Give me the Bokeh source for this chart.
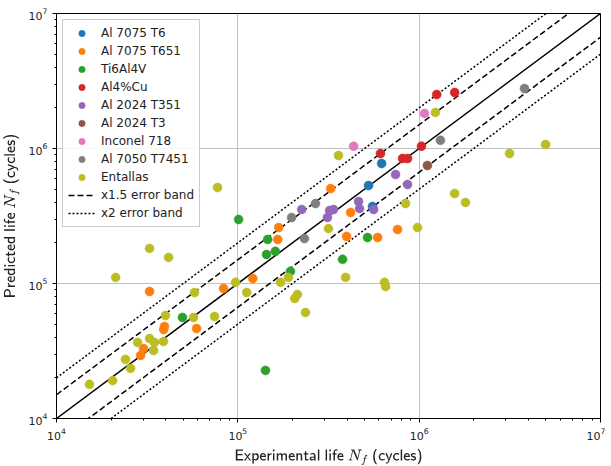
import numpy as np
from bokeh.plotting import figure
from bokeh.models import Legend, LegendItem, Range1d
from bokeh.embed import file_html
from bokeh.resources import INLINE

# ---- data (experimental life, predicted life) ----
al7075_t6_x = [6.21e5, 5.26e5, 5.53e5]
al7075_t6_y = [7.74e5, 5.32e5, 3.72e5]

al7075_t651_x = [3.26e4, 3.94e4, 3.90e4, 3.02e4, 2.91e4, 5.92e4, 8.34e4, 1.21e5, 1.66e5, 1.68e5,
                 3.25e5, 4.19e5, 3.98e5, 5.90e5, 7.60e5]
al7075_t651_y = [8.73e4, 4.80e4, 4.56e4, 3.30e4, 2.93e4, 4.64e4, 9.18e4, 1.09e5, 2.12e5, 2.60e5,
                 5.05e5, 3.36e5, 2.23e5, 2.19e5, 2.51e5]

ti6al4v_x = [1.01e5, 1.46e5, 1.44e5, 1.61e5, 1.95e5, 4.95e4, 1.42e5, 3.78e5, 5.19e5]
ti6al4v_y = [2.98e5, 2.12e5, 1.64e5, 1.73e5, 1.23e5, 5.60e4, 2.27e4, 1.51e5, 2.19e5]

al4cu_x = [1.25e6, 1.57e6, 6.12e5, 8.10e5, 8.63e5, 1.03e6]
al4cu_y = [2.51e6, 2.60e6, 9.18e5, 8.43e5, 8.43e5, 1.04e6]

al2024_t351_x = [2.25e5, 3.21e5, 3.37e5, 3.12e5, 4.63e5, 4.69e5, 5.61e5, 7.41e5, 8.63e5]
al2024_t351_y = [3.53e5, 3.47e5, 3.53e5, 3.08e5, 4.05e5, 3.59e5, 3.53e5, 6.42e5, 5.41e5]

al2024_t3_x = [1.11e6]
al2024_t3_y = [7.48e5]

inconel718_x = [4.35e5, 1.07e6]
inconel718_y = [1.04e6, 1.82e6]

al7050_t7451_x = [3.81e6, 1.31e6, 2.68e5, 1.98e5, 2.33e5]
al7050_t7451_y = [2.78e6, 1.15e6, 3.91e5, 3.08e5, 2.15e5]

entallas_x = [7.73e4, 3.59e5, 1.23e6, 3.15e6, 4.98e6, 1.57e6, 1.80e6, 8.41e5, 3.16e5, 9.80e5,
              3.93e5, 6.44e5, 6.53e5, 2.13e5, 2.06e5, 2.36e5, 3.26e4, 4.15e4, 2.12e4, 5.77e4,
              9.71e4, 1.12e5, 1.72e5, 1.90e5, 3.99e4, 5.70e4, 7.44e4, 1.52e4, 2.04e4, 2.40e4,
              2.56e4, 2.80e4, 3.26e4, 3.47e4, 3.43e4, 3.89e4]
entallas_y = [5.14e5, 8.87e5, 1.85e6, 9.18e5, 1.07e6, 4.64e5, 3.98e5, 3.91e5, 2.55e5, 2.60e5,
              1.11e5, 1.02e5, 9.50e4, 8.29e4, 7.74e4, 6.10e4, 1.82e5, 1.56e5, 1.11e5, 8.58e4,
              1.02e5, 8.58e4, 1.02e5, 1.11e5, 5.79e4, 5.60e4, 5.70e4, 1.79e4, 1.91e4, 2.74e4,
              2.35e4, 3.66e4, 3.91e4, 3.66e4, 3.19e4, 3.72e4]

series = [
    ("Al 7075 T6", al7075_t6_x, al7075_t6_y, "#1f77b4"),
    ("Al 7075 T651", al7075_t651_x, al7075_t651_y, "#ff7f0e"),
    ("Ti6Al4V", ti6al4v_x, ti6al4v_y, "#2ca02c"),
    ("Al4%Cu", al4cu_x, al4cu_y, "#d62728"),
    ("Al 2024 T351", al2024_t351_x, al2024_t351_y, "#9467bd"),
    ("Al 2024 T3", al2024_t3_x, al2024_t3_y, "#8c564b"),
    ("Inconel 718", inconel718_x, inconel718_y, "#e377c2"),
    ("Al 7050 T7451", al7050_t7451_x, al7050_t7451_y, "#7f7f7f"),
    ("Entallas", entallas_x, entallas_y, "#bcbd22"),
]

axis_min, axis_max = 1e4, 1e7
band_x = np.array([axis_min, axis_max])
band15 = 1.5
band2 = 2.0

FONT = "DejaVu Sans"

p = figure(width=602, height=458, x_axis_type="log", y_axis_type="log",
           x_range=Range1d(axis_min, axis_max), y_range=Range1d(axis_min, axis_max),
           output_backend="svg", toolbar_location=None,
           min_border_left=53, min_border_right=5, min_border_top=13, min_border_bottom=40)
p.frame_width = 544
p.frame_height = 405
p.background_fill_color = "white"
p.border_fill_color = "white"
p.outline_line_color = "black"
p.outline_line_width = 1

for ax in (p.xaxis, p.yaxis):
    ax.major_label_text_font = FONT
    ax.major_label_text_font_size = "11px"
    ax.major_label_text_color = "#222222"
    ax.axis_label_text_font = FONT
    ax.axis_label_text_font_size = "11.5px"
    ax.axis_label_text_font_style = "normal"
    ax.axis_label_text_color = "#222222"
    ax.axis_label_standoff = 6
    ax.major_tick_out = 4
    ax.major_tick_in = 0
    ax.minor_tick_out = 2
    ax.minor_tick_in = 0
    ax.axis_line_color = "black"

p.xaxis.axis_label = r"$$\mathsf{Experimental\ life}\ N_f\ \mathsf{(cycles)}$$"
p.yaxis.axis_label = r"$$\mathsf{Predicted\ life}\ N_f\ \mathsf{(cycles)}$$"

p.xgrid.grid_line_color = "#b0b0b0"
p.ygrid.grid_line_color = "#b0b0b0"
p.xgrid.grid_line_alpha = 0.8
p.ygrid.grid_line_alpha = 0.8

# reference lines
p.line(band_x, band_x, line_color="black", line_width=1.5)
dash_r = []
for f in (band15, 1.0 / band15):
    dash_r.append(p.line(band_x, band_x * f, line_color="black", line_width=1.5, line_dash="6 3"))
dot_r = []
for f in (band2, 1.0 / band2):
    dot_r.append(p.line(band_x, band_x * f, line_color="black", line_width=1.5, line_dash="2 2"))

items = []
for name, xs, ys, col in series:
    r = p.scatter(xs, ys, size=9, fill_color=col, line_color=col, line_width=0.5)
    items.append(LegendItem(label=name, renderers=[r]))
items.append(LegendItem(label="x1.5 error band", renderers=[dash_r[0]]))
items.append(LegendItem(label="x2 error band", renderers=[dot_r[0]]))

legend = Legend(items=items, location="top_left")
legend.label_text_font = FONT
legend.label_text_font_size = "12px"
legend.label_text_color = "#222222"
legend.label_height = 16
legend.glyph_height = 16
legend.glyph_width = 27
legend.label_standoff = 6
legend.spacing = 2
legend.padding = 5
legend.margin = 6
legend.border_line_color = "#cccccc"
legend.border_line_alpha = 1
legend.background_fill_alpha = 0.85
p.add_layout(legend)

open("out.html", "w").write(file_html(p, INLINE))
